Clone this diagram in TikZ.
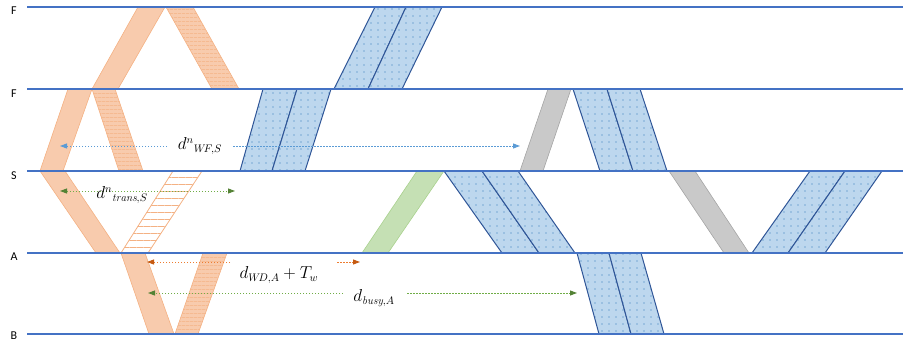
\documentclass[tikz,border=0pt]{standalone}
\usepackage{fontspec}
\newfontfamily\lblfont{Carlito}
\usetikzlibrary{arrows.meta,patterns.meta}
\definecolor{lineblue}{HTML}{4472C4}
\definecolor{orfill}{HTML}{F8CBAD}
\definecolor{ordraw}{HTML}{F4B183}
\definecolor{bluefill}{HTML}{BDD7EE}
\definecolor{bluedot}{HTML}{2E75B6}
\definecolor{bluedraw}{HTML}{2F5597}
\definecolor{greenfill}{HTML}{C5E0B4}
\definecolor{greendraw}{HTML}{A9D18E}
\definecolor{grayfill}{HTML}{C9C9C9}
\definecolor{graydraw}{HTML}{A5A5A5}
\definecolor{arrblue}{HTML}{5B9BD5}
\definecolor{linegreen}{HTML}{70AD47}
\definecolor{arrgreen}{HTML}{548235}
\definecolor{lineorange}{HTML}{ED7D31}
\definecolor{arrorange}{HTML}{C55A11}
\begin{document}
\begin{tikzpicture}[x=1pt, y=-1pt,
  level/.style={draw=lineblue, line width=1.1pt},
  orband/.style={fill=orfill, draw=ordraw, line width=.6pt},
  orhatch/.style={preaction={fill=orfill}, pattern={Lines[angle=0,distance=4pt,line width=.7pt]}, pattern color=ordraw, draw=ordraw, line width=.6pt},
  oropen/.style={preaction={fill=white}, pattern={Lines[angle=0,distance=7pt,line width=.9pt]}, pattern color=ordraw, draw=ordraw, line width=.8pt},
  blueband/.style={preaction={fill=bluefill}, pattern={Dots[distance=7pt,radius=.65pt]}, pattern color=bluedot, draw=bluedraw, line width=1pt},
  greenband/.style={fill=greenfill, draw=greendraw, line width=.6pt},
  grayband/.style={fill=grayfill, draw=graydraw, line width=.6pt},
  tip/.style={-{Triangle[length=7pt,width=5pt,color=#1]}},
  dur/.style={dash pattern=on 1.5pt off 1.5pt, line width=.9pt},
  every node/.style={font=\fontsize{16}{19}\selectfont}]
  \useasboundingbox (0,0) rectangle (903,345);
  % orange bands
  \foreach \ya/\yb/\tl/\tr/\bl/\br in {7/89/138/165/92/118, 89/171/68/92/40/63, 171/253/40/65/96/120, 253/334/121/145/149/174}
    \draw[orband] (\tl,\ya) -- (\tr,\ya) -- (\br,\yb) -- (\bl,\yb) -- cycle;
  \foreach \ya/\yb/\tl/\tr/\bl/\br in {7/89/166/193/212/239, 89/171/92/115/119/143, 253/334/203/227/175/198}
    \draw[orhatch] (\tl,\ya) -- (\tr,\ya) -- (\br,\yb) -- (\bl,\yb) -- cycle;
  \draw[oropen] (173,171) -- (202,171) -- (148,253) -- (121,253) -- cycle;
  % blue pairs
  \foreach \ya/\yb/\ta/\tb/\tc/\ba/\bb/\bc in {7/89/375/406/442/334/368/402, 89/171/263/297/331/240/272/305,
      171/253/444/482/518/502/539/575, 253/334/577/609/641/599/631/664,
      89/171/573/607/640/600/633/667, 171/253/810/845/882/752/788/825} {
    \draw[blueband] (\ta,\ya) -- (\tb,\ya) -- (\bb,\yb) -- (\ba,\yb) -- cycle;
    \draw[blueband] (\tb,\ya) -- (\tc,\ya) -- (\bc,\yb) -- (\bb,\yb) -- cycle;
  }
  % green and gray
  \draw[greenband] (417,171) -- (444,171) -- (388,253) -- (362,253) -- cycle;
  \foreach \ya/\yb/\tl/\tr/\bl/\br in {89/171/548/571/520/543, 171/253/669/695/724/749}
    \draw[grayband] (\tl,\ya) -- (\tr,\ya) -- (\br,\yb) -- (\bl,\yb) -- cycle;
  % levels
  \foreach \y/\t/\d [count=\i] in {7/F/4, 89/F/5, 171/S/5, 253/A/4, 334/B/2} {
    \draw[level] (27,\y) -- (903,\y);
    \node[font=\lblfont\fontsize{12}{14}\selectfont] (lv\i) at (14,\y+\d) {\t};
  }
  % durations
  \coordinate (wf1) at (60,146); \coordinate (wf2) at (167,146);
  \coordinate (wf3) at (233,146); \coordinate (wf4) at (520,146);
  \draw[dur, arrblue, tip=arrblue] (wf2) -- (wf1);
  \draw[dur, arrblue, tip=arrblue] (wf3) -- (wf4);
  \node (wfl) at (200,146) {$d^{n}{}_{W\!F,S}$};
  \coordinate (tr1) at (60,191); \coordinate (tr2) at (235,191);
  \draw[dur, linegreen, {Triangle[length=7pt,width=5pt,color=arrgreen]}-{Triangle[length=7pt,width=5pt,color=arrgreen]}] (tr1) -- (tr2);
  \node (trl) at (122,195) {$d^{n}{}_{\mathit{trans},S}$};
  \coordinate (wd1) at (147,262); \coordinate (wd2) at (230,262);
  \coordinate (wd3) at (337,262); \coordinate (wd4) at (360,262);
  \draw[dur, lineorange, tip=arrorange] (wd2) -- (wd1);
  \draw[dur, lineorange, tip=arrorange] (wd3) -- (wd4);
  \node (wdl) at (279,275) {$d_{W\!D,A}+T_w$};
  \coordinate (bu1) at (148,293); \coordinate (bu2) at (343,293);
  \coordinate (bu3) at (407,293); \coordinate (bu4) at (577,293);
  \draw[dur, linegreen, tip=arrgreen] (bu2) -- (bu1);
  \draw[dur, linegreen, tip=arrgreen] (bu3) -- (bu4);
  \node (bul) at (374,298) {$d_{\mathit{busy},A}$};
\end{tikzpicture}
\end{document}
